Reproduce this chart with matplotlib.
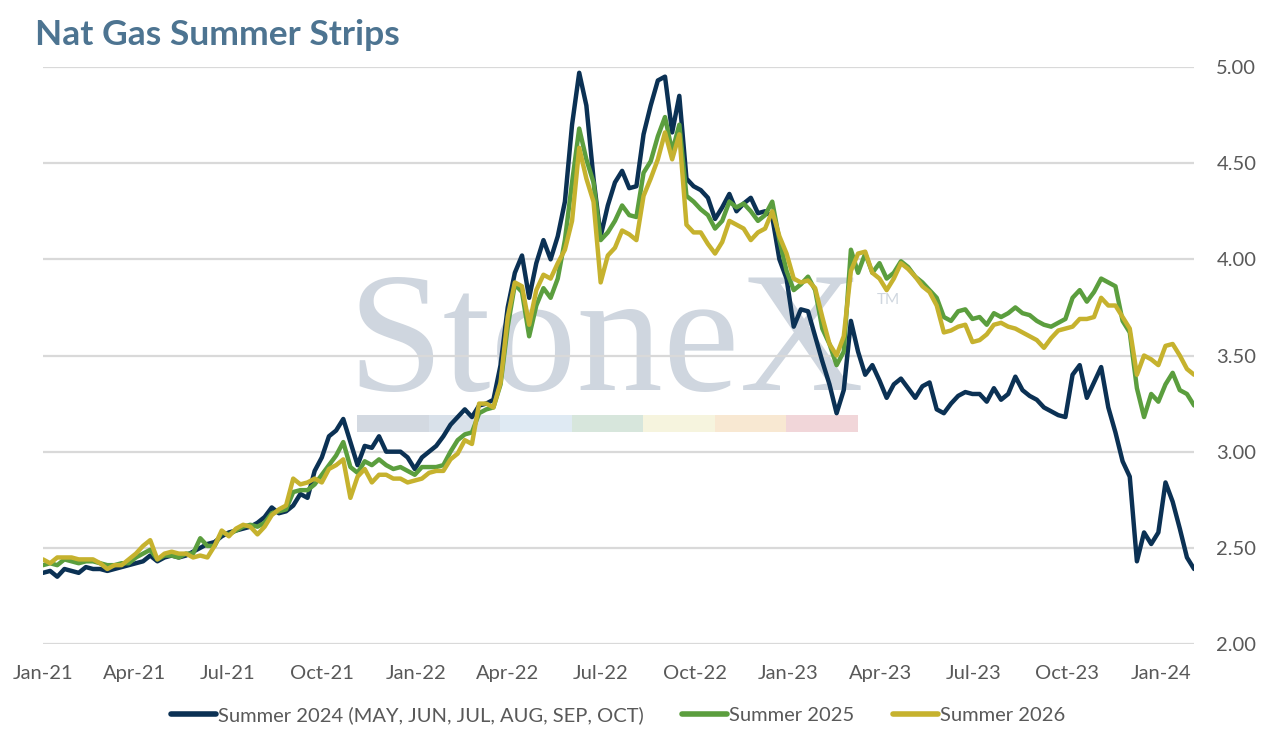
import pandas as pd
import matplotlib
matplotlib.use("Agg")
import matplotlib.pyplot as plt
import matplotlib.dates as mdates
from matplotlib.patches import Rectangle

### DATA (weekly readings, $/MMBtu)

dates = pd.date_range("2021-01-01", periods=162, freq="7D")

summer_2024 = [
    2.37, 2.38, 2.35, 2.39, 2.38, 2.37, 2.40, 2.39, 2.39, 2.38,
    2.39, 2.40, 2.41, 2.42, 2.43, 2.46, 2.43, 2.45, 2.46, 2.45,
    2.46, 2.48, 2.50, 2.52, 2.53, 2.56, 2.58, 2.59, 2.60, 2.61,
    2.63, 2.66, 2.71, 2.68, 2.69, 2.72, 2.78, 2.76, 2.90, 2.97,
    3.08, 3.11, 3.17, 3.05, 2.93, 3.03, 3.02, 3.08, 3.00, 3.00,
    3.00, 2.97, 2.91, 2.97, 3.00, 3.03, 3.08, 3.14, 3.18, 3.22,
    3.18, 3.24, 3.25, 3.27, 3.45, 3.75, 3.93, 4.02, 3.80, 3.98,
    4.10, 4.00, 4.12, 4.30, 4.70, 4.97, 4.80, 4.42, 4.12, 4.28,
    4.40, 4.46, 4.37, 4.38, 4.65, 4.80, 4.93, 4.95, 4.66, 4.85,
    4.42, 4.38, 4.36, 4.32, 4.21, 4.27, 4.34, 4.25, 4.29, 4.32,
    4.24, 4.25, 4.22, 4.00, 3.90, 3.65, 3.74, 3.73, 3.60, 3.47,
    3.35, 3.20, 3.32, 3.68, 3.52, 3.40, 3.45, 3.37, 3.28, 3.35,
    3.38, 3.33, 3.28, 3.34, 3.36, 3.22, 3.20, 3.25, 3.29, 3.31,
    3.30, 3.30, 3.26, 3.33, 3.27, 3.30, 3.39, 3.32, 3.29, 3.27,
    3.23, 3.21, 3.19, 3.18, 3.40, 3.45, 3.28, 3.36, 3.44, 3.23,
    3.10, 2.95, 2.87, 2.43, 2.58, 2.52, 2.58, 2.84, 2.74, 2.60,
    2.45, 2.39,
]

summer_2025 = [
    2.41, 2.42, 2.41, 2.44, 2.43, 2.42, 2.43, 2.43, 2.42, 2.41,
    2.41, 2.42, 2.42, 2.45, 2.47, 2.49, 2.44, 2.46, 2.46, 2.45,
    2.47, 2.47, 2.55, 2.51, 2.51, 2.58, 2.57, 2.59, 2.61, 2.62,
    2.61, 2.63, 2.68, 2.69, 2.70, 2.79, 2.80, 2.80, 2.83, 2.88,
    2.93, 2.98, 3.05, 2.92, 2.89, 2.95, 2.93, 2.96, 2.93, 2.91,
    2.92, 2.90, 2.88, 2.92, 2.92, 2.92, 2.93, 3.00, 3.06, 3.09,
    3.10, 3.20, 3.22, 3.23, 3.35, 3.65, 3.87, 3.83, 3.60, 3.76,
    3.85, 3.80, 3.90, 4.10, 4.40, 4.68, 4.52, 4.40, 4.10, 4.14,
    4.20, 4.28, 4.23, 4.22, 4.45, 4.51, 4.64, 4.74, 4.56, 4.70,
    4.33, 4.30, 4.26, 4.23, 4.16, 4.20, 4.30, 4.27, 4.29, 4.25,
    4.20, 4.23, 4.30, 4.10, 3.94, 3.84, 3.87, 3.91, 3.84, 3.64,
    3.56, 3.45, 3.52, 4.05, 3.93, 4.03, 3.93, 3.98, 3.90, 3.93,
    3.99, 3.96, 3.91, 3.88, 3.84, 3.80, 3.70, 3.68, 3.73, 3.74,
    3.69, 3.70, 3.66, 3.72, 3.70, 3.72, 3.75, 3.72, 3.71, 3.68,
    3.66, 3.65, 3.67, 3.69, 3.80, 3.84, 3.78, 3.83, 3.90, 3.88,
    3.86, 3.68, 3.62, 3.33, 3.18, 3.30, 3.26, 3.35, 3.41, 3.32,
    3.30, 3.24,
]

summer_2026 = [
    2.44, 2.42, 2.45, 2.45, 2.45, 2.44, 2.44, 2.44, 2.42, 2.39,
    2.41, 2.41, 2.44, 2.47, 2.51, 2.54, 2.44, 2.47, 2.48, 2.47,
    2.47, 2.45, 2.46, 2.45, 2.51, 2.59, 2.56, 2.60, 2.62, 2.61,
    2.57, 2.61, 2.67, 2.70, 2.72, 2.86, 2.83, 2.84, 2.86, 2.84,
    2.91, 2.93, 2.96, 2.76, 2.87, 2.91, 2.84, 2.88, 2.88, 2.86,
    2.86, 2.84, 2.85, 2.86, 2.89, 2.90, 2.90, 2.96, 2.99, 3.06,
    3.04, 3.25, 3.25, 3.23, 3.36, 3.70, 3.88, 3.86, 3.66, 3.84,
    3.92, 3.90, 3.98, 4.05, 4.20, 4.58, 4.42, 4.30, 3.88, 4.02,
    4.06, 4.15, 4.13, 4.10, 4.33, 4.42, 4.52, 4.66, 4.52, 4.65,
    4.18, 4.14, 4.14, 4.08, 4.03, 4.09, 4.20, 4.18, 4.16, 4.10,
    4.14, 4.16, 4.25, 4.12, 4.03, 3.90, 3.88, 3.89, 3.85, 3.70,
    3.56, 3.50, 3.60, 3.94, 4.03, 4.04, 3.93, 3.90, 3.84, 3.90,
    3.98, 3.95, 3.91, 3.86, 3.83, 3.76, 3.62, 3.63, 3.65, 3.66,
    3.57, 3.58, 3.61, 3.66, 3.67, 3.65, 3.64, 3.62, 3.60, 3.58,
    3.54, 3.59, 3.63, 3.64, 3.65, 3.69, 3.69, 3.70, 3.80, 3.76,
    3.76, 3.70, 3.64, 3.40, 3.50, 3.48, 3.45, 3.55, 3.56, 3.50,
    3.43, 3.40,
]

labels = ["Summer 2024 (MAY, JUN, JUL, AUG, SEP, OCT)", "Summer 2025", "Summer 2026"]
colors = ["#0b3154", "#5b9e3e", "#c6b22e"]

# stripe under the watermark
stripe_colors = ["#d3d9e1", "#d9e1ea", "#dfeaf3", "#d7e6dc", "#f6f4de", "#f8e8d2", "#f1d6d9"]

### PLOT

plt.rcParams["font.family"] = ["Lato", "DejaVu Sans"]

fig = plt.figure(figsize=(12.71, 7.34), dpi=100)
ax = fig.add_axes([0.0338, 0.1226, 0.9057, 0.7861])

# watermark
ax.text(0.489, 0.44, "StoneX", transform=ax.transAxes, ha="center", va="baseline",
        fontsize=124, family="Liberation Serif", color="#cfd6df", zorder=0)
ax.text(0.724, 0.596, "TM", transform=ax.transAxes, ha="left", va="center",
        fontsize=11, color="#cfd6df", zorder=0)
seg_w = 0.0621
for i, c in enumerate(stripe_colors):
    ax.add_patch(Rectangle((0.273 + i * seg_w, 0.367), seg_w, 0.03, transform=ax.transAxes,
                           facecolor=c, edgecolor="none", zorder=0))

for series, lab, col in zip([summer_2024, summer_2025, summer_2026], labels, colors):
    ax.plot(dates, series, color=col, lw=3.2, label=lab, zorder=3,
            solid_joinstyle="round", solid_capstyle="round")

ax.set_ylim(2.0, 5.0)
ax.set_yticks([2.0, 2.5, 3.0, 3.5, 4.0, 4.5, 5.0])
ax.yaxis.set_major_formatter(plt.FuncFormatter(lambda v, p: f"{v:.2f}"))
ax.yaxis.tick_right()
ax.set_xlim(dates[0], dates[-1])
ax.xaxis.set_major_locator(mdates.MonthLocator(bymonth=[1, 4, 7, 10]))
ax.xaxis.set_major_formatter(mdates.DateFormatter("%b-%y"))

ax.grid(axis="y", color="#d9d9d9", lw=1.6, zorder=1)
ax.tick_params(axis="both", length=0, labelsize=14.5, colors="#595959")
ax.tick_params(axis="y", pad=16)
ax.tick_params(axis="x", pad=15)
for s in ax.spines.values():
    s.set_visible(False)

fig.text(0.0275, 0.939, "Nat Gas Summer Strips", fontsize=25.5, fontweight="bold",
         color="#4d7491", ha="left", va="baseline")

leg = ax.legend(loc="center", bbox_to_anchor=(0.4995, -0.123), ncol=3, frameon=False,
                fontsize=14.5, handlelength=2.25, handletextpad=0.1, columnspacing=1.9)
for t in leg.get_texts():
    t.set_color("#595959")
for h in leg.get_lines():
    h.set_linewidth(4)

fig.savefig("out.png", dpi=100)
